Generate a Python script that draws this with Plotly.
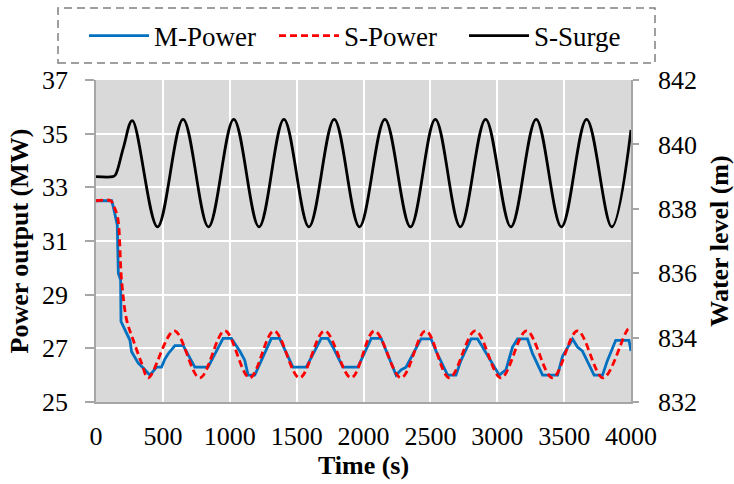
import plotly.graph_objects as go

# ---- data ----
# M-Power (measured, stepwise) : time (s), MW
m_t = [0, 117, 129, 154, 159, 167, 184, 187, 216, 254, 266, 316, 366, 403, 453, 490, 515, 540, 590, 652,
       739, 838, 950, 1012, 1075, 1112, 1137, 1187, 1311, 1373, 1472, 1572, 1684, 1734, 1771, 1846, 1958,
       2058, 2132, 2244, 2281, 2318, 2430, 2505, 2542, 2629, 2691, 2729, 2804, 2853, 2890, 3015, 3065,
       3114, 3152, 3226, 3264, 3339, 3451, 3488, 3563, 3600, 3637, 3724, 3787, 3824, 3886, 3985, 4000]
m_p = [32.5, 32.5, 32.28, 31.78, 31.6, 29.8, 29.55, 28.0, 27.68, 27.3, 26.87, 26.45, 26.2, 26.0, 26.3, 26.3,
       26.6, 26.8, 27.1, 27.1, 26.3, 26.3, 27.37, 27.37, 26.9, 26.56, 26.0, 26.0, 27.37, 27.37, 26.3, 26.3,
       27.37, 27.37, 27.05, 26.3, 26.3, 27.37, 27.37, 26.0, 26.2, 26.3, 27.35, 27.35, 26.9, 26.0, 26.0,
       26.55, 27.35, 27.35, 27.05, 26.0, 26.2, 27.05, 27.35, 27.35, 26.8, 26.0, 26.0, 26.7, 27.35, 27.05,
       26.9, 26.0, 26.0, 26.55, 27.3, 27.3, 26.9]

# S-Power (simulated) : time (s), MW
s_t = [0, 110, 129, 161, 191, 229, 279, 341, 391, 585, 776, 963, 1149, 1331, 1522, 1709, 1908, 2082,
       2281, 2465, 2642, 2836, 3028, 3219, 3413, 3600, 3791, 3980, 4000]
s_p = [32.5, 32.5, 32.34, 31.9, 29.55, 28.06, 27.3, 26.45, 25.9, 27.65, 25.9, 27.65, 25.9, 27.65, 25.9,
       27.65, 25.9, 27.65, 25.9, 27.65, 25.9, 27.65, 25.9, 27.65, 25.9, 27.65, 25.9, 27.72, 27.7]

# S-Surge (simulated surge-tank water level) : time (s), m
w_t = [0, 125, 145, 205, 271, 460, 651, 841, 1030, 1219, 1405, 1592, 1781, 1970, 2160, 2351, 2537,
       2724, 2913, 3102, 3291, 3480, 3668, 3856, 4000]
w_h = [839.0, 839.0, 839.05, 839.9, 840.74, 837.44, 840.78, 837.44, 840.78, 837.44, 840.78, 837.44,
       840.78, 837.44, 840.78, 837.44, 840.78, 837.44, 840.78, 837.44, 840.78, 837.44, 840.78, 837.44,
       840.45]

x_ticks = [0, 500, 1000, 1500, 2000, 2500, 3000, 3500, 4000]
y_ticks = [25, 27, 29, 31, 33, 35, 37]
y2_ticks = [832, 834, 836, 838, 840, 842]

FONT = "Liberation Serif"
AX = "#a6a6a6"

fig = go.Figure()
fig.add_trace(go.Scatter(x=m_t, y=m_p, name="M-Power", mode="lines",
                         line=dict(color="#0070c0", width=2.8)))
fig.add_trace(go.Scatter(x=s_t, y=s_p, name="S-Power", mode="lines",
                         line=dict(color="#ff0000", width=2.8, dash="7px,4px", shape="spline",
                                   smoothing=1.0)))
fig.add_trace(go.Scatter(x=w_t, y=w_h, name="S-Surge", mode="lines", yaxis="y2",
                         line=dict(color="#000000", width=2.8, shape="spline", smoothing=1.0)))

fig.update_layout(
    width=734, height=484, autosize=False,
    margin=dict(l=96, r=103, t=80, b=82, autoexpand=False),
    paper_bgcolor="white", plot_bgcolor="#d9d9d9",
    font=dict(family=FONT, size=26, color="black"),
    showlegend=True,
    legend=dict(orientation="h", xref="paper", yref="paper",
                x=(84 - 96) / 535, xanchor="left", y=(402 - 36) / 322, yanchor="middle",
                bgcolor="rgba(0,0,0,0)", borderwidth=0,
                font=dict(family=FONT, size=27), entrywidth=115, itemwidth=60,
                traceorder="normal"),
    xaxis=dict(range=[0, 4000], tickvals=x_ticks, showgrid=True, gridcolor="white", gridwidth=1.5,
               showline=True, linecolor=AX, linewidth=1.5, ticks="", zeroline=False,
               ticklabelstandoff=10,
               title=dict(text="Time (s)", font=dict(family=FONT, size=26, weight="bold"), standoff=4)),
    yaxis=dict(range=[25, 37], tickvals=y_ticks, showgrid=True, gridcolor="white", gridwidth=1.5,
               showline=True, linecolor=AX, linewidth=1.5, ticks="outside", ticklen=9, tickcolor=AX,
               tickwidth=1.5, zeroline=False, ticklabelstandoff=12,
               title=dict(text="Power output (MW)", font=dict(family=FONT, size=26, weight="bold"),
                          standoff=6)),
    yaxis2=dict(range=[832, 842], tickvals=y2_ticks, overlaying="y", side="right", showgrid=False,
                showline=True, linecolor=AX, linewidth=1.5, ticks="outside", ticklen=6, tickcolor=AX,
                tickwidth=1.5, zeroline=False, ticklabelstandoff=14,
                title=dict(text="Water level (m)", font=dict(family=FONT, size=26, weight="bold"),
                           standoff=16)),
    shapes=[dict(type="rect", xref="paper", yref="paper",
                 x0=(58 - 96) / 535, x1=(655 - 96) / 535,
                 y0=(402 - 63) / 322, y1=(402 - 8) / 322,
                 line=dict(color="#808080", width=1.5, dash="8px,5px"), fillcolor="rgba(0,0,0,0)")],
)

fig.write_html("out.html")
